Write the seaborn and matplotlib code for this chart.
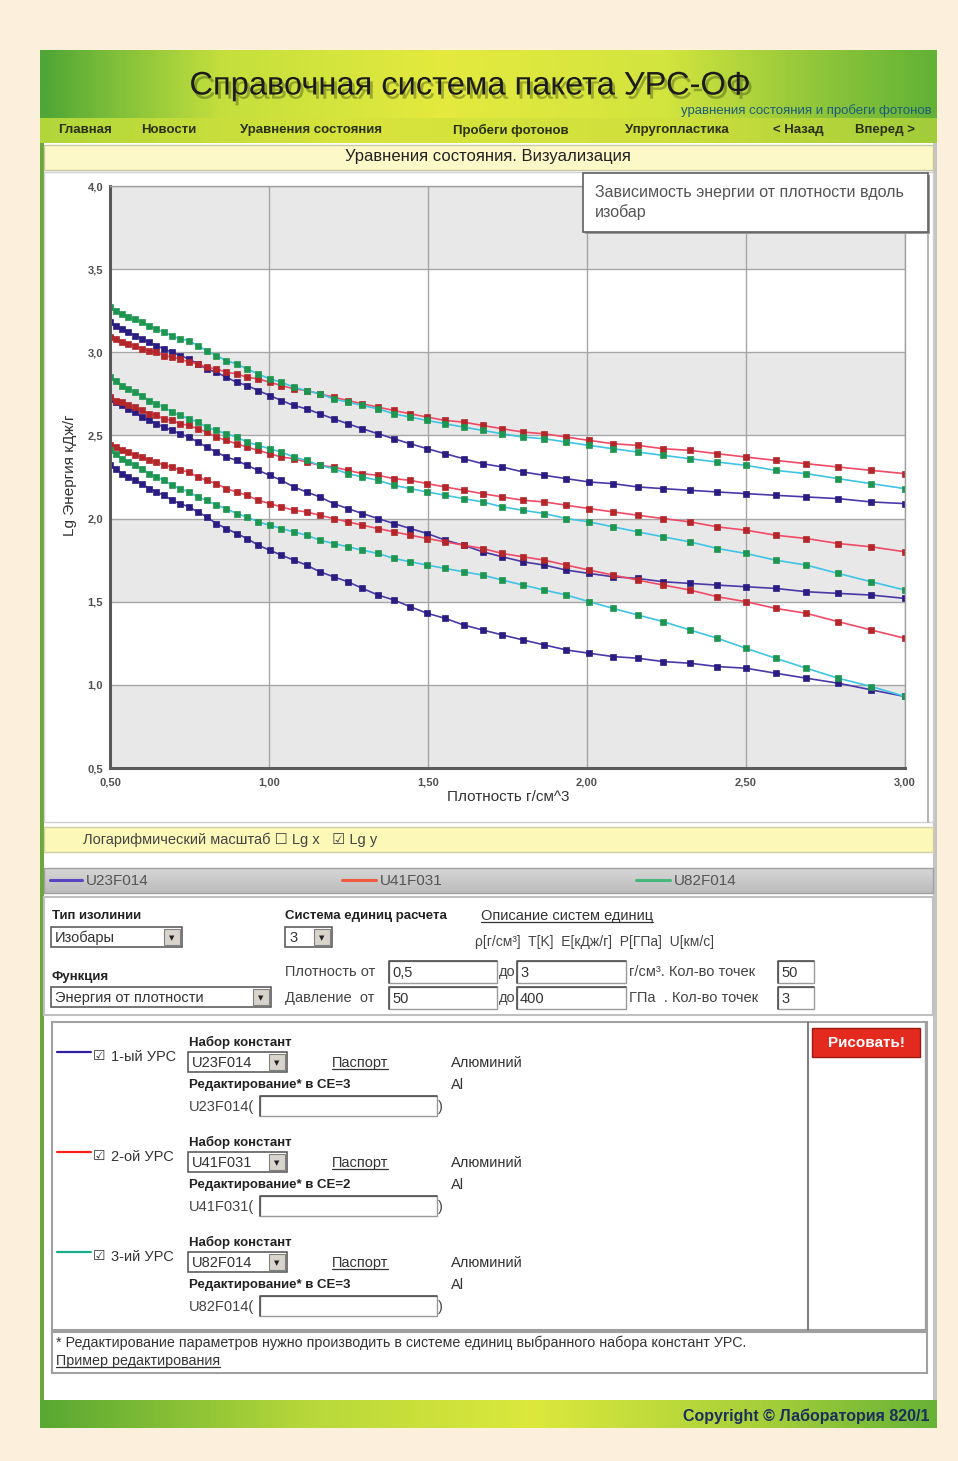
import numpy as np
import pandas as pd
import matplotlib
matplotlib.use("Agg")
import matplotlib.pyplot as plt
import matplotlib.patheffects as pe
from matplotlib.patches import Rectangle
from matplotlib.colors import LinearSegmentedColormap
import seaborn as sns

# ---------------- data ----------------
density = [0.500, 0.519, 0.538, 0.558, 0.579, 0.600, 0.623, 0.646, 0.670, 0.695,
           0.721, 0.748, 0.776, 0.804, 0.834, 0.866, 0.898, 0.931, 0.966, 1.002,
           1.039, 1.078, 1.118, 1.160, 1.203, 1.248, 1.294, 1.343, 1.393, 1.444,
           1.498, 1.554, 1.612, 1.672, 1.734, 1.799, 1.866, 1.935, 2.007, 2.082,
           2.160, 2.240, 2.324, 2.410, 2.500, 2.593, 2.690, 2.790, 2.894, 3.000]

eos_names = ["U23F014", "U41F031", "U82F014"]
isobars = [50, 225, 400]          # GPa

u23f014_p400 = [3.18, 3.16, 3.14, 3.12, 3.10, 3.08, 3.06, 3.04, 3.02, 3.00,
                2.98, 2.96, 2.93, 2.90, 2.88, 2.85, 2.82, 2.80, 2.77, 2.74,
                2.71, 2.68, 2.66, 2.63, 2.60, 2.57, 2.54, 2.51, 2.48, 2.45,
                2.42, 2.39, 2.36, 2.33, 2.31, 2.28, 2.26, 2.24, 2.22, 2.21,
                2.19, 2.18, 2.17, 2.16, 2.15, 2.14, 2.13, 2.12, 2.10, 2.09]
u41f031_p400 = [3.09, 3.08, 3.06, 3.05, 3.04, 3.02, 3.01, 3.00, 2.98, 2.97,
                2.96, 2.94, 2.93, 2.91, 2.90, 2.88, 2.87, 2.85, 2.84, 2.82,
                2.80, 2.78, 2.77, 2.75, 2.73, 2.71, 2.69, 2.67, 2.65, 2.63,
                2.61, 2.59, 2.58, 2.56, 2.54, 2.52, 2.51, 2.49, 2.47, 2.45,
                2.44, 2.42, 2.41, 2.39, 2.37, 2.35, 2.33, 2.31, 2.29, 2.27]
u82f014_p400 = [3.27, 3.25, 3.23, 3.21, 3.20, 3.18, 3.16, 3.14, 3.12, 3.10,
                3.08, 3.07, 3.04, 3.01, 2.98, 2.95, 2.93, 2.90, 2.87, 2.84,
                2.82, 2.79, 2.77, 2.75, 2.72, 2.70, 2.68, 2.66, 2.63, 2.61,
                2.59, 2.57, 2.55, 2.53, 2.51, 2.49, 2.48, 2.46, 2.44, 2.42,
                2.40, 2.38, 2.36, 2.34, 2.32, 2.29, 2.27, 2.24, 2.21, 2.18]
u41f031_p225 = [2.73, 2.71, 2.70, 2.68, 2.67, 2.65, 2.63, 2.62, 2.60, 2.59,
                2.57, 2.56, 2.54, 2.52, 2.49, 2.47, 2.45, 2.43, 2.41, 2.39,
                2.37, 2.36, 2.34, 2.32, 2.31, 2.29, 2.27, 2.26, 2.24, 2.23,
                2.21, 2.19, 2.17, 2.15, 2.13, 2.11, 2.10, 2.08, 2.06, 2.04,
                2.02, 2.00, 1.98, 1.95, 1.93, 1.90, 1.88, 1.85, 1.83, 1.80]
u82f014_p225 = [2.85, 2.83, 2.80, 2.78, 2.76, 2.74, 2.71, 2.69, 2.67, 2.64,
                2.62, 2.60, 2.58, 2.55, 2.53, 2.51, 2.49, 2.46, 2.44, 2.42,
                2.40, 2.37, 2.35, 2.32, 2.30, 2.27, 2.25, 2.23, 2.20, 2.18,
                2.16, 2.14, 2.12, 2.10, 2.07, 2.05, 2.03, 2.00, 1.98, 1.95,
                1.92, 1.89, 1.86, 1.82, 1.79, 1.75, 1.72, 1.67, 1.62, 1.57]
u23f014_p225 = [2.72, 2.70, 2.68, 2.66, 2.64, 2.61, 2.59, 2.57, 2.55, 2.53,
                2.51, 2.49, 2.46, 2.43, 2.40, 2.37, 2.35, 2.32, 2.29, 2.26,
                2.23, 2.19, 2.16, 2.13, 2.09, 2.06, 2.03, 2.00, 1.97, 1.94,
                1.91, 1.87, 1.84, 1.80, 1.77, 1.74, 1.72, 1.69, 1.67, 1.65,
                1.64, 1.62, 1.61, 1.60, 1.59, 1.58, 1.56, 1.55, 1.54, 1.52]
u41f031_p50 = [2.44, 2.43, 2.41, 2.40, 2.38, 2.37, 2.35, 2.34, 2.32, 2.31,
               2.29, 2.28, 2.25, 2.23, 2.21, 2.18, 2.16, 2.14, 2.11, 2.09,
               2.07, 2.05, 2.04, 2.02, 2.00, 1.98, 1.96, 1.94, 1.92, 1.90,
               1.88, 1.86, 1.84, 1.82, 1.79, 1.77, 1.75, 1.72, 1.69, 1.66,
               1.63, 1.60, 1.57, 1.53, 1.50, 1.46, 1.43, 1.38, 1.33, 1.28]
u82f014_p50 = [2.41, 2.39, 2.36, 2.34, 2.32, 2.30, 2.27, 2.25, 2.23, 2.20,
               2.18, 2.16, 2.13, 2.11, 2.08, 2.06, 2.03, 2.01, 1.98, 1.96,
               1.94, 1.92, 1.90, 1.87, 1.85, 1.83, 1.81, 1.79, 1.76, 1.74,
               1.72, 1.70, 1.68, 1.66, 1.63, 1.60, 1.57, 1.54, 1.50, 1.46,
               1.42, 1.38, 1.33, 1.28, 1.22, 1.16, 1.10, 1.04, 0.99, 0.93]
u23f014_p50 = [2.32, 2.30, 2.27, 2.25, 2.23, 2.21, 2.18, 2.16, 2.14, 2.11,
               2.09, 2.07, 2.04, 2.01, 1.97, 1.94, 1.91, 1.88, 1.84, 1.81,
               1.78, 1.75, 1.72, 1.68, 1.65, 1.62, 1.58, 1.54, 1.51, 1.47,
               1.43, 1.40, 1.36, 1.33, 1.30, 1.27, 1.24, 1.21, 1.19, 1.17,
               1.16, 1.14, 1.13, 1.11, 1.10, 1.07, 1.04, 1.01, 0.97, 0.93]

curves = {
    ("U23F014", 50): u23f014_p50, ("U23F014", 225): u23f014_p225, ("U23F014", 400): u23f014_p400,
    ("U41F031", 50): u41f031_p50, ("U41F031", 225): u41f031_p225, ("U41F031", 400): u41f031_p400,
    ("U82F014", 50): u82f014_p50, ("U82F014", 225): u82f014_p225, ("U82F014", 400): u82f014_p400,
}

x_ticks = [0.5, 1.0, 1.5, 2.0, 2.5, 3.0]
x_tick_labels = ["0,50", "1,00", "1,50", "2,00", "2,50", "3,00"]
y_ticks = [0.5, 1.0, 1.5, 2.0, 2.5, 3.0, 3.5, 4.0]
y_tick_labels = ["0,5", "1,0", "1,5", "2,0", "2,5", "3,0", "3,5", "4,0"]
band_starts = [0.5, 1.5, 2.5, 3.5]

eos_rows = ["1-ый УРС", "2-ой УРС", "3-ий УРС"]
eos_units = ["СЕ=3", "СЕ=2", "СЕ=3"]

rows = []
for (eos, p), vals in curves.items():
    for d, e in zip(density, vals):
        rows.append({"eos": eos, "pressure": p, "density": d, "energy": e})
df = pd.DataFrame(rows)

line_colors = {"U23F014": "#4a38a8", "U41F031": "#f04a66", "U82F014": "#3ec4e4"}
marker_colors = {"U23F014": "#2a1d82", "U41F031": "#b3262a", "U82F014": "#1f9650"}
legend_colors = ["#5a46c0", "#f05a40", "#46b87a"]
panel_colors = ["#3020a0", "#ff2020", "#18b08a"]

# ---------------- figure ----------------
sns.set_theme(style="white")
plt.rcParams['font.family'] = ['Liberation Sans', 'DejaVu Sans']

W, H = 958, 1461
fig = plt.figure(figsize=(W / 100, H / 100), dpi=100)
fig.patch.set_facecolor('#fcefdc')

bg = fig.add_axes([0, 0, 1, 1], zorder=0)
bg.axis('off')

def rect(x0, y0, x1, y1, fc='white', ec='none', lw=1.0, z=2):
    bg.add_patch(Rectangle((x0, y0), x1 - x0, y1 - y0, fc=fc, ec=ec, lw=lw, zorder=z))

def T(x, y, s, size=10.5, color='#333333', weight='normal', ha='left', va='center', z=5, **kw):
    return bg.text(x, y, s, fontsize=size, color=color, fontweight=weight,
                   ha=ha, va=va, zorder=z, **kw)

# page body
rect(40, 143, 937, 1400, fc='white', z=1)
rect(40, 143, 44, 1400, fc='#6aa83c', z=2)
rect(933, 143, 937, 1400, fc='#c4c4c4', z=2)

# header gradient
ramp = np.linspace(0, 1, 300).reshape(1, -1)
hdr = LinearSegmentedColormap.from_list('hdr', [(0, '#4fa536'), (0.08, '#7fbf3a'), (0.2, '#c4df3c'),
                                                (0.45, '#e4ea3e'), (0.7, '#d2e43e'), (0.88, '#8cc43a'),
                                                (1.0, '#62b236')])
nav = LinearSegmentedColormap.from_list('nav', [(0, '#b2d63a'), (0.35, '#d8e43c'), (0.7, '#d0e03c'),
                                                (1.0, '#a2cc3a')])
ftr = LinearSegmentedColormap.from_list('ftr', [(0, '#58a832'), (0.3, '#b8d83a'), (0.55, '#dce83c'),
                                                (0.8, '#a8d03a'), (1.0, '#68b236')])
bg.imshow(ramp, cmap=hdr, extent=[40, 937, 118, 50], aspect='auto', zorder=1)
bg.imshow(ramp, cmap=nav, extent=[40, 937, 143, 118], aspect='auto', zorder=1)
bg.imshow(ramp, cmap=ftr, extent=[40, 937, 1428, 1400], aspect='auto', zorder=1)

T(470, 86, "Справочная система пакета УРС-ОФ", size=23.5, color='#1c1c1c', ha='center',
  path_effects=[pe.withSimplePatchShadow(offset=(2, -3), shadow_rgbFace='#3a4a10', alpha=0.4)])
T(932, 111, "уравнения состояния и пробеги фотонов", size=9.5, color='#1d5c7a', ha='right')
nav_items = [(58, "Главная"), (141, "Новости"), (240, "Уравнения состояния"), (453, "Пробеги фотонов"),
             (625, "Упругопластика"), (773, "< Назад"), (855, "Вперед >")]
for x, s in nav_items:
    T(x, 130, s, size=9.5, weight='bold', color='#2a3010')

# title bar
rect(44, 145, 933, 170, fc='#fcf8c8', ec='#c8c8a0', z=2)
T(488, 157, "Уравнения состояния. Визуализация", size=12, color='#222222', ha='center')

# chart panel
rect(44, 172, 933, 822, fc='white', ec='#d0d0d0', z=2)
bg.plot([928, 928], [174, 822], color='#a8a8a8', lw=1.2, zorder=3)

# ---------------- the chart ----------------
ax = fig.add_axes([110 / W, 1 - 768 / H, 795 / W, 582 / H], zorder=3)
ax.set_facecolor('white')
for lo in band_starts:
    ax.axhspan(lo, lo + 0.5, color='#e8e8e8', lw=0, zorder=0)
for eos in eos_names:
    sub = df[df["eos"] == eos]
    sns.lineplot(data=sub, x="density", y="energy", units="pressure", estimator=None, sort=False,
                 ax=ax, color=line_colors[eos], linewidth=1.2, marker="s", markersize=4.6,
                 markerfacecolor=marker_colors[eos], markeredgecolor=marker_colors[eos],
                 markeredgewidth=0.5, legend=False)
ax.set_xlim(0.5, 3.0)
ax.set_ylim(0.5, 4.0)
ax.set_xticks(x_ticks)
ax.set_xticklabels(x_tick_labels)
ax.set_yticks(y_ticks)
ax.set_yticklabels(y_tick_labels)
ax.set_axisbelow(True)
ax.grid(True, color='#a6a6a6', lw=1.0)
for side in ['left', 'bottom']:
    ax.spines[side].set_color('#5a5a5a')
    ax.spines[side].set_linewidth(2.2)
for side in ['top', 'right']:
    ax.spines[side].set_color('#a0a0a0')
    ax.spines[side].set_linewidth(1.0)
ax.tick_params(axis='both', length=3, width=1, color='#666666', labelsize=8,
               labelcolor='#505050', pad=2)
ax.tick_params(axis='x', pad=4)
for lbl in ax.get_xticklabels() + ax.get_yticklabels():
    lbl.set_fontweight('bold')
ax.set_xlabel("Плотность г/см^3", fontsize=11, color='#333333')
ax.set_ylabel("Lg Энергия кДж/г", fontsize=11, color='#333333')
ax.xaxis.set_label_coords((508 - 110) / 795, (768 - 790) / 582)
ax.yaxis.set_label_coords((77 - 110) / 795, (768 - 475) / 582)

# overlay: chart title box
ov = fig.add_axes([0, 0, 1, 1], zorder=10)
ov.axis('off')
ov.set_xlim(0, W)
ov.set_ylim(H, 0)
ov.add_patch(Rectangle((585, 175), 345, 59, fc='#9a9a9a', ec='none', zorder=1))
ov.add_patch(Rectangle((583, 173), 345, 59, fc='white', ec='#606060', lw=1.2, zorder=2))
ov.text(595, 193, "Зависимость энергии от плотности вдоль", fontsize=11.5, color='#555555',
        va='center', zorder=3)
ov.text(595, 212, "изобар", fontsize=11.5, color='#555555', va='center', zorder=3)

# ---------------- controls under the chart ----------------
rect(44, 827, 933, 852, fc='#fcf8b8', ec='#d0d0a0', z=2)
T(83, 840, "Логарифмический масштаб ☐ Lg x   ☑ Lg y", size=10.5, color='#444444')

# legend bar
leg = LinearSegmentedColormap.from_list('leg', ['#d6d6d6', '#bcbcbc'])
bg.imshow(np.linspace(0, 1, 50).reshape(-1, 1), cmap=leg, extent=[44, 933, 893, 868],
          aspect='auto', zorder=2)
bg.plot([44, 933, 933, 44, 44], [868, 868, 893, 893, 868], color='#a0a0a0', lw=1, zorder=3)
for (x0, x1), name, col in zip([(50, 82), (342, 376), (636, 670)], eos_names, legend_colors):
    bg.plot([x0, x1], [880, 880], color=col, lw=2.2, zorder=4)
    T(x1 + 4, 881, name, size=11, color='#555555')

# form panel
rect(44, 897, 933, 1015, fc='white', ec='#c0c0c0', lw=1.5, z=2)

def select(x0, y0, x1, y1, s):
    rect(x0, y0, x1, y1, fc='white', ec='#505050', lw=1.1, z=3)
    rect(x1 - 18, y0 + 2, x1 - 2, y1 - 2, fc='#d8d4cc', ec='#808080', lw=0.8, z=4)
    T(x1 - 10, (y0 + y1) / 2 + 1, "▼", size=5, color='#222222', ha='center', family='DejaVu Sans')
    T(x0 + 4, (y0 + y1) / 2 + 1, s, size=10.5, color='#333333')

def textbox(x0, y0, x1, y1, s=""):
    rect(x0, y0, x1, y1, fc='white', ec='#9a9a9a', lw=1.0, z=3)
    bg.plot([x0, x0, x1], [y1, y0, y0], color='#505050', lw=1.2, zorder=4)
    if s:
        T(x0 + 3, (y0 + y1) / 2 + 1, s, size=10.5, color='#333333')

T(52, 916, "Тип изолинии", size=9.5, weight='bold', color='#222222')
select(51, 927, 182, 947, "Изобары")
T(52, 977, "Функция", size=9.5, weight='bold', color='#222222')
select(51, 987, 271, 1007, "Энергия от плотности")
T(285, 916, "Система единиц расчета", size=9.5, weight='bold', color='#222222')
select(285, 927, 332, 947, "3")
link1 = T(481, 916, "Описание систем единиц", size=10.5, color='#333333')
T(475, 942, "ρ[г/см³]  T[K]  E[кДж/г]  P[ГПа]  U[км/с]", size=10, color='#444444')

T(285, 972, "Плотность от", size=10.5, color='#444444')
textbox(389, 961, 497, 983, "0,5")
T(499, 972, "до", size=10.5, color='#444444')
textbox(517, 961, 626, 983, "3")
T(629, 972, "г/см³. Кол-во точек", size=10.5, color='#444444')
textbox(778, 961, 814, 983, "50")
T(285, 998, "Давление  от", size=10.5, color='#444444')
textbox(389, 987, 497, 1009, "50")
T(499, 998, "до", size=10.5, color='#444444')
textbox(517, 987, 626, 1009, "400")
T(629, 998, "ГПа  . Кол-во точек", size=10.5, color='#444444')
textbox(778, 987, 814, 1009, "3")

# EOS panel
rect(52, 1022, 927, 1330, fc='white', ec='#a0a0a0', lw=1.5, z=2)
bg.plot([808, 808], [1022, 1330], color='#808080', lw=1.5, zorder=3)
bg.plot([925, 925], [1022, 1330], color='#a0a0a0', lw=1.0, zorder=3)
rect(812, 1028, 920, 1057, fc='#e42a1e', ec='#9a1a10', lw=1.0, z=4)
T(866, 1043, "Рисовать!", size=11, weight='bold', color='white', ha='center')

links = [link1]
for k, (row, name, unit, col) in enumerate(zip(eos_rows, eos_names, eos_units, panel_colors)):
    dy = 100 * k
    bg.plot([57, 91], [1052 + dy, 1052 + dy], color=col, lw=1.6, zorder=4)
    T(93, 1056 + dy, "☑", size=10, color='#333333', family='DejaVu Sans')
    T(111, 1057 + dy, row, size=10.5, color='#333333')
    T(189, 1042 + dy, "Набор констант", size=9.5, weight='bold', color='#222222')
    select(188, 1052 + dy, 287, 1072 + dy, name)
    links.append(T(332, 1063 + dy, "Паспорт", size=10.5, color='#333333'))
    T(451, 1063 + dy, "Алюминий", size=10.5, color='#333333')
    T(189, 1085 + dy, "Редактирование* в " + unit, size=9.5, weight='bold', color='#222222')
    T(451, 1085 + dy, "Al", size=10.5, color='#333333')
    T(189, 1107 + dy, name + "(", size=10.5, color='#444444')
    textbox(260, 1096 + dy, 437, 1116 + dy)
    T(438, 1107 + dy, ")", size=10.5, color='#444444')

# footnote
rect(52, 1332, 927, 1373, fc='white', ec='#a0a0a0', lw=1.5, z=2)
T(56, 1343, "* Редактирование параметров нужно производить в системе единиц выбранного набора констант УРС.",
  size=10.3, color='#333333')
links.append(T(56, 1361, "Пример редактирования", size=10.3, color='#333333'))

T(930, 1416, "Copyright © Лаборатория 820/1", size=11.5, weight='bold', color='#1c2f5c', ha='right')

bg.set_xlim(0, W)
bg.set_ylim(H, 0)

# underline the links
fig.canvas.draw()
renderer = fig.canvas.get_renderer()
inv = bg.transData.inverted()
for t in links:
    bb = t.get_window_extent(renderer)
    (x0, ya), (x1, yb) = inv.transform([[bb.x0, bb.y0], [bb.x1, bb.y1]])
    ybot = max(ya, yb) - 1.5
    bg.plot([x0, x1], [ybot, ybot], color='#333333', lw=0.9, zorder=5)
bg.set_xlim(0, W)
bg.set_ylim(H, 0)

fig.savefig("out.png", dpi=100, facecolor=fig.get_facecolor())
